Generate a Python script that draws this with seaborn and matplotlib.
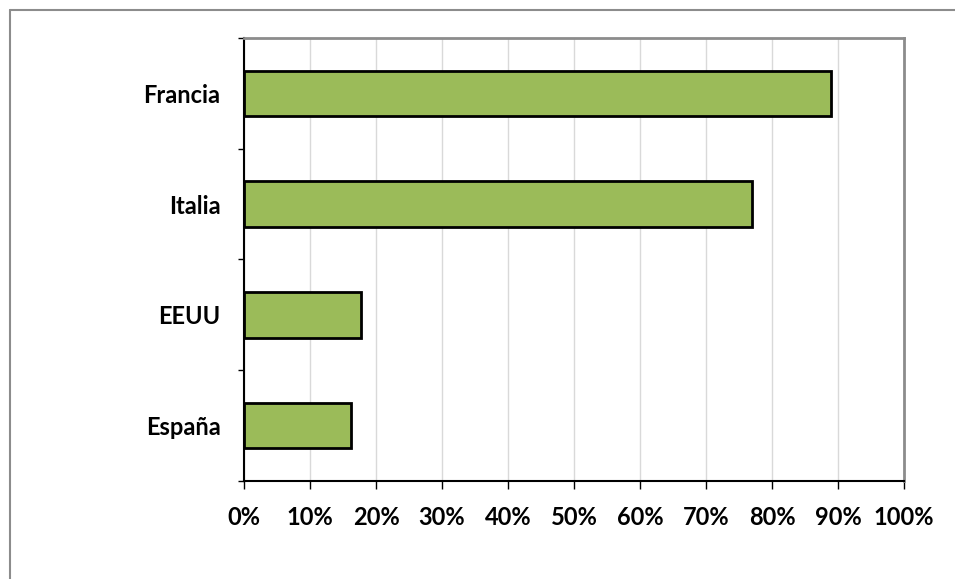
import matplotlib
matplotlib.use("Agg")
import matplotlib.pyplot as plt
import seaborn as sns
import pandas as pd
import numpy as np
from matplotlib.lines import Line2D
from matplotlib.ticker import PercentFormatter, FixedLocator

# Data
countries = ["Francia", "Italia", "EEUU", "España"]
shares = [88.9, 77.0, 17.7, 16.2]
x_ticks = [0, 10, 20, 30, 40, 50, 60, 70, 80, 90, 100]

df = pd.DataFrame({"country": countries, "share": shares})

sns.set_style("white")
plt.rcParams['font.family'] = ['Lato', 'DejaVu Sans']

fig = plt.figure(figsize=(9.55, 5.79), dpi=100)
ax = fig.add_axes([0.2555, 0.1693, 0.6911, 0.7651])

sns.barplot(data=df, x="share", y="country", order=countries, orient="h",
            color="#9BBB59", saturation=1, width=0.41,
            edgecolor="black", linewidth=2, ax=ax, zorder=3)

ax.set_xlim(0, 100)
ax.set_ylim(len(countries) - 0.5, -0.5)
ax.xaxis.set_major_locator(FixedLocator(x_ticks))
ax.xaxis.set_major_formatter(PercentFormatter(decimals=0))
ax.grid(axis="x", color="#d9d9d9", linewidth=1, zorder=0)
ax.set_axisbelow(True)

ax.set_xlabel("")
ax.set_ylabel("")

# category labels at centres, tick marks at category boundaries
ax.tick_params(axis="y", which="major", length=0, pad=17)
ax.set_yticks(np.arange(-0.5, len(countries), 1.0), minor=True)
ax.tick_params(axis="y", which="minor", direction="out", length=4, width=1, color="black", left=True)
ax.tick_params(axis="x", which="major", direction="out", length=6, width=1, color="black", bottom=True, pad=12)

for lab in ax.get_yticklabels() + ax.get_xticklabels():
    lab.set_fontweight("bold")
    lab.set_fontsize(17)
    lab.set_color("black")

ax.spines["left"].set_color("black")
ax.spines["left"].set_linewidth(1.5)
ax.spines["bottom"].set_color("black")
ax.spines["bottom"].set_linewidth(1.5)
ax.spines["top"].set_color("#8c8c8c")
ax.spines["top"].set_linewidth(2)
ax.spines["right"].set_color("#8c8c8c")
ax.spines["right"].set_linewidth(2)

# outer chart-area border (top and left visible in the reference)
fig.add_artist(Line2D([10 / 955, 1.0], [1 - 10 / 579] * 2, transform=fig.transFigure,
                      color="#8c8c8c", linewidth=1.5))
fig.add_artist(Line2D([10 / 955] * 2, [0.0, 1 - 10 / 579], transform=fig.transFigure,
                      color="#8c8c8c", linewidth=1.5))

fig.savefig("out.png", dpi=100)
